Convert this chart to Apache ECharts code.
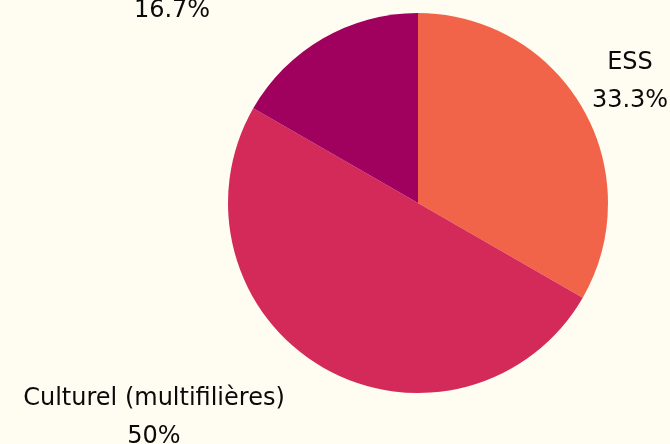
<!DOCTYPE html>
<html>
<head>
<meta charset="utf-8">
<script src="https://cdn.jsdelivr.net/npm/echarts@6/dist/echarts.min.js"></script>
<style>
  html, body { margin: 0; padding: 0; background: #fffdf2; }
  #main { width: 670px; height: 444px; }
</style>
</head>
<body>
<div id="main"></div>
<script>
  // données
  var categories = ['ESS', 'Culturel (multifilières)', 'Autre'];
  var values = [33.3, 50, 16.7];
  var colors = ['#f26449', '#d42a5a', '#a0005e'];

  // centre des étiquettes (mise en page)
  var labelCenters = [[630, 82], [154, 418], [172, -8]];

  var chart = echarts.init(document.getElementById('main'));
  chart.setOption({
    backgroundColor: '#fffdf2',
    animation: false,
    series: [{
      type: 'pie',
      center: [418, 203],
      radius: 190,
      startAngle: 90,
      clockwise: true,
      data: categories.map(function (c, i) {
        return { name: c, value: values[i], itemStyle: { color: colors[i] } };
      }),
      label: {
        show: true,
        position: 'outside',
        formatter: function (p) { return p.name + '\n' + p.value + '%'; },
        fontFamily: 'DejaVu Sans',
        fontSize: 24,
        lineHeight: 38,
        color: '#0a0a0a',
        align: 'center',
        overflow: 'none'
      },
      labelLine: { show: false },
      labelLayout: function (p) {
        var pos = labelCenters[p.dataIndex];
        return { x: pos[0], y: pos[1], align: 'center', verticalAlign: 'middle' };
      }
    }]
  });
</script>
</body>
</html>
